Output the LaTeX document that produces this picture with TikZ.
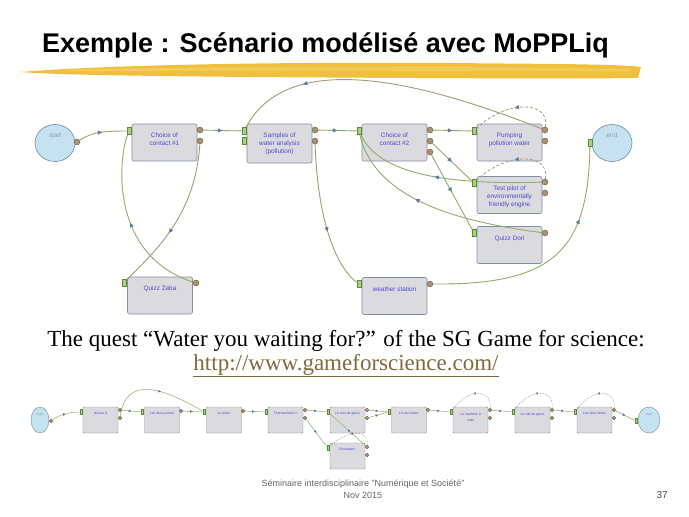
\documentclass[tikz,border=0pt]{standalone}
\usepackage{fontspec}
\setmainfont{Liberation Sans}
\newfontfamily\serifquote{Liberation Serif}
\usetikzlibrary{arrows.meta,decorations.markings,shapes.geometric}

\definecolor{taskfill}{HTML}{DADADF}
\definecolor{taskedge}{HTML}{8090A4}
\definecolor{tasktext}{HTML}{5048D0}
\definecolor{termfill}{HTML}{C6E2F0}
\definecolor{termedge}{HTML}{6A8CA8}
\definecolor{termtext}{HTML}{8C9AA8}
\definecolor{linkgreen}{HTML}{8CAF6A}
\definecolor{linkbrown}{HTML}{A89878}
\definecolor{tipblue}{HTML}{5F7F9F}
\definecolor{infill}{HTML}{A8D080}
\definecolor{inedge}{HTML}{5D8A3A}
\definecolor{outfill}{HTML}{A89070}
\definecolor{outedge}{HTML}{6D5A45}
\definecolor{brushgold}{HTML}{EFC040}
\definecolor{brushlight}{HTML}{F6D468}
\definecolor{urlbrown}{HTML}{84693F}

\pgfdeclarelayer{front}
\pgfsetlayers{main,front}

\tikzset{
  task/.style={draw=taskedge, fill=taskfill, rounded corners=2pt, line width=0.6pt,
    minimum width=65pt, minimum height=37pt, inner sep=0pt, label={[tasklbl]north:{#1}}},
  tasklbl/.style={anchor=north, yshift=-9pt, inner sep=0pt, align=center,
    font=\fontsize{6.4}{8.2}\selectfont, text=tasktext},
  stask/.style={draw=taskedge, fill=taskfill, rounded corners=1pt, line width=0.4pt,
    minimum width=35pt, minimum height=26pt, inner sep=0pt, label={[stasklbl]north:{#1}}},
  stasklbl/.style={anchor=north, yshift=-5.5pt, inner sep=0pt, align=center,
    font=\fontsize{3.4}{6.5}\selectfont, text=tasktext},
  term/.style={ellipse, draw=termedge, fill=termfill, line width=0.6pt, minimum width=40pt,
    minimum height=37pt, inner sep=0pt, label={[termlbl]north:#1}},
  termlbl/.style={anchor=north, yshift=-8.5pt, inner sep=0pt, font=\fontsize{6.4}{8}\selectfont, text=termtext},
  sterm/.style={ellipse, draw=termedge, fill=termfill, line width=0.4pt, minimum width=#1,
    minimum height=26pt, inner sep=0pt},
  inport/.style={draw=inedge, fill=infill, minimum width=4.5pt, minimum height=7pt, inner sep=0pt, line width=0.4pt},
  outport/.style={circle, draw=outedge, fill=outfill, minimum size=6pt, inner sep=0pt, line width=0.4pt},
  sinport/.style={inport, minimum width=2.5pt, minimum height=5pt, line width=0.3pt},
  soutport/.style={outport, minimum size=3.6pt, line width=0.3pt},
  midarrow/.style={postaction={decorate, decoration={markings,
    mark=at position #1 with {\arrow{Triangle[length=4.5pt,width=4pt,color=tipblue]}}}}},
  smidarrow/.style={postaction={decorate, decoration={markings,
    mark=at position #1 with {\arrow{Triangle[length=2.6pt,width=2.4pt,color=tipblue]}}}}},
  link/.style={draw=linkgreen, line width=0.9pt, midarrow=#1},
  link/.default=0.5,
  dashlink/.style={draw=linkbrown, line width=0.8pt, dash pattern=on 3pt off 2pt, midarrow=#1},
  dashlink/.default=0.5,
  slink/.style={draw=linkgreen, line width=0.5pt, smidarrow=#1},
  slink/.default=0.5,
  sdash/.style={draw=linkbrown, line width=0.4pt, dash pattern=on 1.8pt off 1.2pt, smidarrow=#1},
  sdash/.default=0.5
}

\begin{document}
\begin{tikzpicture}[x=1pt,y=-1pt]
  \useasboundingbox (0,0) rectangle (689,517);
  \fill[white] (0,0) rectangle (689,517);

  % title
  \node[anchor=base west, inner sep=0pt, font=\fontsize{27}{30}\selectfont\bfseries] (title) at (42,52)
    {Exemple : Scénario modélisé avec MoPPLiq};
  \fill[brushgold] (20,72) .. controls (120,64) and (300,62) .. (450,63) .. controls (550,64) and (620,64) .. (641,67)
    -- (638,78) .. controls (560,79) and (400,78) .. (250,77) .. controls (150,76) and (60,75) .. (20,72) -- cycle;
  \fill[brushlight, opacity=0.6] (70,70) .. controls (200,66) and (450,66) .. (630,69) -- (630,71.5)
    .. controls (450,70.5) and (200,70.5) .. (70,71) -- cycle;

  % upper scenario
  \node[term=start] (st) at (55,143) {};
  \node[term=end] (en) at (612,143) {};
  \node[task={Choice of\\contact \#1}] (c1) at (164.5,142.5) {};
  \node[task={Samples of\\water analysis\\(pollution)}, minimum height=39pt] (sm) at (279.5,143.5) {};
  \node[task={Quizz Zaba}] (qz) at (160,295.5) {};
  \node[task={Choice of\\contact \#2}] (c2) at (394.5,142.5) {};
  \node[task={Pumping\\pollution water}] (pu) at (509.5,142.5) {};
  \node[task={Test pilot of\\environmentally\\friendly engine}] (tp) at (509.5,195) {};
  \node[task={Quizz Dori}] (qd) at (509.5,245) {};
  \node[task={weather station}] (ws) at (394.5,296) {};

  \begin{pgfonlayer}{front}
    \foreach \n/\x/\y in {c1-i/129/131, sm-i1/244/131, sm-i2/244/141, c2-i/359/131, pu-i/474/131,
        tp-i/474/183, qd-i/474/233, ws-i/359/284, qz-i/124/283, e-i/590/143}
      \node[inport] (\n) at (\x,\y) {};
    \foreach \n/\x/\y in {s-o/77/142, c1-o1/200/130, c1-o2/200/141, sm-o1/315/130, sm-o2/315/141,
        c2-o1/430/130, c2-o2/430/141, c2-o3/430/152, pu-o1/545/130, pu-o2/545/141,
        tp-o1/545/182, tp-o2/545/193, qd-o1/545/233, ws-o1/430/284, qz-o1/196/283}
      \node[outport] (\n) at (\x,\y) {};
  \end{pgfonlayer}

  \draw[link] (s-o) .. controls +(15,-10) and +(-25,0) .. (c1-i);
  \foreach \a/\b in {c1-o1/sm-i1, sm-o1/c2-i, c2-o1/pu-i, c2-o2/tp-i, c2-o3/qd-i}
    \draw[link] (\a) -- (\b);
  \draw[link=0.6, draw=linkbrown] (c1-o2) .. controls (195,220) and (150,255) .. (qz-i);
  \draw[link] (qz-o1) .. controls (110,255) and (118,160) .. (c1-i);
  \draw[link=0.6, draw=linkbrown] (sm-o2) .. controls (318,230) and (340,270) .. (ws-i);
  \draw[link=0.77, draw=linkbrown] (pu-o1) .. controls (430,85) and (290,45) .. (sm-i1);
  \draw[link=0.55] (tp-o1) .. controls (420,186) and (375,165) .. (c2-i);
  \draw[link=0.6] (qd-o1) .. controls (460,222) and (375,200) .. (c2-i);
  \draw[dashlink] (pu-o1) .. controls (550,100) and (505,100) .. (pu-i);
  \draw[dashlink] (tp-o1) .. controls (550,152) and (505,152) .. (tp-i);
  \draw[link=0.7] (ws-o1) .. controls (555,285) and (588,250) .. (e-i);

  % quest text
  \node[anchor=base, inner sep=0pt, font=\serifquote\fontsize{23}{26}\selectfont] (quest) at (346,346)
    {The quest “Water you waiting for?” of the SG Game for science:};
  \node[anchor=base, inner sep=0pt, font=\serifquote\fontsize{23}{26}\selectfont, text=urlbrown] (url) at (346,370)
    {\underline{http://www.gameforscience.com/}};

  % lower scenario
  \node[sterm=18pt, label={[stasklbl, text=termtext, yshift=-1pt]north:start}] (bs) at (40,420) {};
  \node[sterm=22pt, label={[stasklbl, text=termtext, yshift=-1pt]north:end}] (be) at (649,420) {};
  \foreach \n/\x/\t in {n0/100.5/{Niveau 0}, dp/162/{Les deux portes}, lv/224/{Le levier},
      th/285.5/{Thermometre 1}, mg/347.5/{Le mur de glace}, mb/409/{Le mur blanc},
      mc/470.5/{La machine à\\code}, cg/532.5/{La cité de glace}, df/594.5/{Les deux fioles}}
    \node[stask=\t] (\n) at (\x,420) {};
  \node[stask={Revelation}] (rv) at (347.5,456) {};

  \begin{pgfonlayer}{front}
    \foreach \n/\x/\y in {n0-i/81/412, dp-i/142/412, lv-i/204/412, th-i/266/412, mg-i/328/412,
        rv-i/328/448, mb-i/389/412, mc-i/451/412, cg-i/513/412, df-i/575/412, be-i/636/421}
      \node[sinport] (\n) at (\x,\y) {};
    \foreach \n/\x/\y in {bs-o/51/421, n0-o1/120/410, n0-o2/120/418, dp-o/181/411, lv-o/243/411,
        th-o1/305/410, th-o2/305/418, mg-o1/367/410, mg-o2/367/418, rv-o1/367/447, rv-o2/367/455,
        mb-o/428/410, mc-o1/490/410, mc-o2/490/418, cg-o1/552/410, cg-o2/552/418,
        df-o1/614/410, df-o2/614/418}
      \node[soutport] (\n) at (\x,\y) {};
  \end{pgfonlayer}

  \draw[slink] (bs-o) .. controls +(8,-6) and +(-12,0) .. (n0-i);
  \foreach \a/\b in {n0-o1/dp-i, dp-o/lv-i, lv-o/th-i, th-o1/mg-i, th-o2/rv-i, mg-o1/mb-i,
      mg-o2/mb-i, rv-o1/mg-i, mb-o/mc-i, mc-o1/cg-i, cg-o1/df-i, df-o1/be-i}
    \draw[slink] (\a) -- (\b);
  \draw[slink=0.55] (n0-o2) .. controls (125,383) and (150,380) .. (lv-i);
  \draw[sdash] (rv-o1) .. controls (369,430) and (350,428) .. (rv-i);
  \foreach \t in {mc,cg,df}
    \draw[sdash] (\t-o1) .. controls +(2,-22) and +(17,-24) .. (\t-i);

  % footer
  \node[anchor=base, inner sep=0pt, align=center, font=\fontsize{9}{12}\selectfont, text=black!60] (foot) at (363,498)
    {Séminaire interdisciplinaire "Numérique et Société"\\Nov 2015};
  \node[anchor=base east, inner sep=0pt, font=\fontsize{10}{12}\selectfont, text=black!70] (page) at (668,498) {37};
\end{tikzpicture}
\end{document}
